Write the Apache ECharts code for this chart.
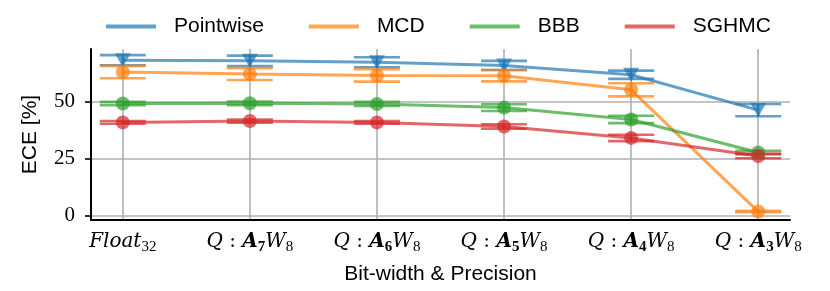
<!DOCTYPE html>
<html><head><meta charset="utf-8">
<script src="https://cdn.jsdelivr.net/npm/echarts@6/dist/echarts.min.js"></script>
<style>html,body{margin:0;padding:0;background:#fff}#c{width:830px;height:291px}</style>
</head><body><div id="c"></div>
<script>
const categories = [0, 1, 2, 3, 4, 5];
const tickLabels = [
  '{it|Float}{sub|32}',
  '{it|Q}{rm| : }{bf|A}{bfsub|7}{it|W}{sub|8}',
  '{it|Q}{rm| : }{bf|A}{bfsub|6}{it|W}{sub|8}',
  '{it|Q}{rm| : }{bf|A}{bfsub|5}{it|W}{sub|8}',
  '{it|Q}{rm| : }{bf|A}{bfsub|4}{it|W}{sub|8}',
  '{it|Q}{rm| : }{bf|A}{bfsub|3}{it|W}{sub|8}'
];
const yTicks = [0, 25, 50];
const seriesNames = ['Pointwise', 'MCD', 'BBB', 'SGHMC'];
const pointwiseMean = [68.3, 68.0, 67.4, 66.0, 61.9, 46.4];
const pointwiseErr  = [2.2, 2.3, 2.2, 2.0, 1.8, 2.7];
const mcdMean = [63.1, 62.2, 61.6, 61.5, 55.3, 1.9];
const mcdErr  = [2.7, 2.6, 2.7, 2.5, 2.9, 0.3];
const bbbMean = [49.3, 49.4, 49.1, 47.5, 42.3, 27.8];
const bbbErr  = [0.7, 0.8, 0.9, 1.5, 1.6, 0.8];
const sghmcMean = [41.0, 41.6, 41.0, 39.2, 34.2, 26.3];
const sghmcErr  = [0.6, 0.7, 0.6, 1.0, 1.4, 1.0];

const means = [pointwiseMean, mcdMean, bbbMean, sghmcMean];
const errs = [pointwiseErr, mcdErr, bbbErr, sghmcErr];
const colors = ['rgba(31,119,180,0.7)', 'rgba(255,127,14,0.7)', 'rgba(44,160,44,0.7)', 'rgba(214,39,40,0.7)'];

function errRenderer(color) {
  return function (params, api) {
    const x = api.value(0), y = api.value(1), e = api.value(2);
    const hi = api.coord([x, y + e]), lo = api.coord([x, y - e]);
    const w = 23;
    const style = { stroke: color, lineWidth: 2.6, fill: null };
    return { type: 'group', children: [
      { type: 'line', shape: { x1: hi[0], y1: hi[1], x2: lo[0], y2: lo[1] }, style: style },
      { type: 'line', shape: { x1: hi[0] - w, y1: hi[1], x2: hi[0] + w, y2: hi[1] }, style: style },
      { type: 'line', shape: { x1: lo[0] - w, y1: lo[1], x2: lo[0] + w, y2: lo[1] }, style: style }
    ]};
  };
}

const series = [];
seriesNames.forEach(function (name, k) {
  const tri = k === 0;
  series.push({
    name: name, type: 'line',
    data: categories.map(function (c, i) { return [c, means[k][i]]; }),
    symbol: tri ? 'triangle' : 'circle',
    symbolRotate: tri ? 180 : 0,
    symbolSize: tri ? [16, 14] : 14,
    showSymbol: true,
    lineStyle: { color: colors[k], width: 3 },
    itemStyle: { color: colors[k], borderWidth: 0 },
    emphasis: { disabled: true }
  });
  series.push({
    name: '_err' + k, type: 'custom',
    data: categories.map(function (c, i) { return [c, means[k][i], errs[k][i]]; }),
    encode: { x: 0, y: 1 },
    renderItem: errRenderer(colors[k])
  });
});

const chart = echarts.init(document.getElementById('c'), null, { renderer: 'canvas' });
chart.setOption({
  animation: false,
  backgroundColor: '#fff',
  grid: { left: 91, right: 40, top: 49, bottom: 71, outerBoundsMode: 'none' },
  legend: {
    data: seriesNames, left: 106, top: 16, padding: 0,
    icon: 'rect', itemWidth: 50, itemHeight: 4, itemGap: 45,
    formatter: function (n) { return '{a|' + n + '}'; },
    textStyle: { fontFamily: 'Liberation Sans', fontSize: 21, color: '#000',
      rich: { a: { fontFamily: 'Liberation Sans', fontSize: 21, color: '#000', padding: [0, 0, 0, 13], lineHeight: 24 } } }
  },
  xAxis: {
    type: 'value', min: -0.25, max: 5.25,
    axisLine: { show: true, onZero: false, lineStyle: { color: '#000', width: 2 } },
    axisTick: { show: false, customValues: categories },
    axisLabel: {
      customValues: categories, margin: 9,
      formatter: function (v) { return tickLabels[Math.round(v)]; },
      rich: {
        it: { fontFamily: 'DejaVu Serif', fontStyle: 'italic', fontSize: 20, color: '#000', lineHeight: 26 },
        rm: { fontFamily: 'DejaVu Serif', fontSize: 20, color: '#000', lineHeight: 26 },
        bf: { fontFamily: 'DejaVu Serif', fontStyle: 'italic', fontWeight: 'bold', fontSize: 20, color: '#000', lineHeight: 26 },
        sub: { fontFamily: 'Liberation Serif', fontSize: 15, color: '#000', lineHeight: 15, verticalAlign: 'bottom' },
        bfsub: { fontFamily: 'Liberation Serif', fontWeight: 'bold', fontSize: 15, color: '#000', lineHeight: 15, verticalAlign: 'bottom' }
      }
    },
    splitLine: { show: true, lineStyle: { color: '#b0b0b0', width: 1.6 } },
    name: 'Bit-width & Precision', nameLocation: 'middle', nameGap: 44,
    nameTextStyle: { fontFamily: 'Liberation Sans', fontSize: 21, color: '#000' }
  },
  yAxis: {
    type: 'value', min: -1.8, max: 73.2,
    axisLine: { show: true, onZero: false, lineStyle: { color: '#000', width: 2 } },
    axisTick: { show: true, length: 6, customValues: yTicks, lineStyle: { color: '#000', width: 1.6 } },
    axisLabel: { customValues: yTicks, margin: 16, fontFamily: 'Liberation Serif', fontSize: 21, color: '#000' },
    splitLine: { show: true, lineStyle: { color: '#b0b0b0', width: 1.6 } },
    name: 'ECE [%]', nameLocation: 'middle', nameGap: 50, nameRotate: 90,
    nameTextStyle: { fontFamily: 'Liberation Sans', fontSize: 21, color: '#000' }
  },
  series: series
});
</script></body></html>
